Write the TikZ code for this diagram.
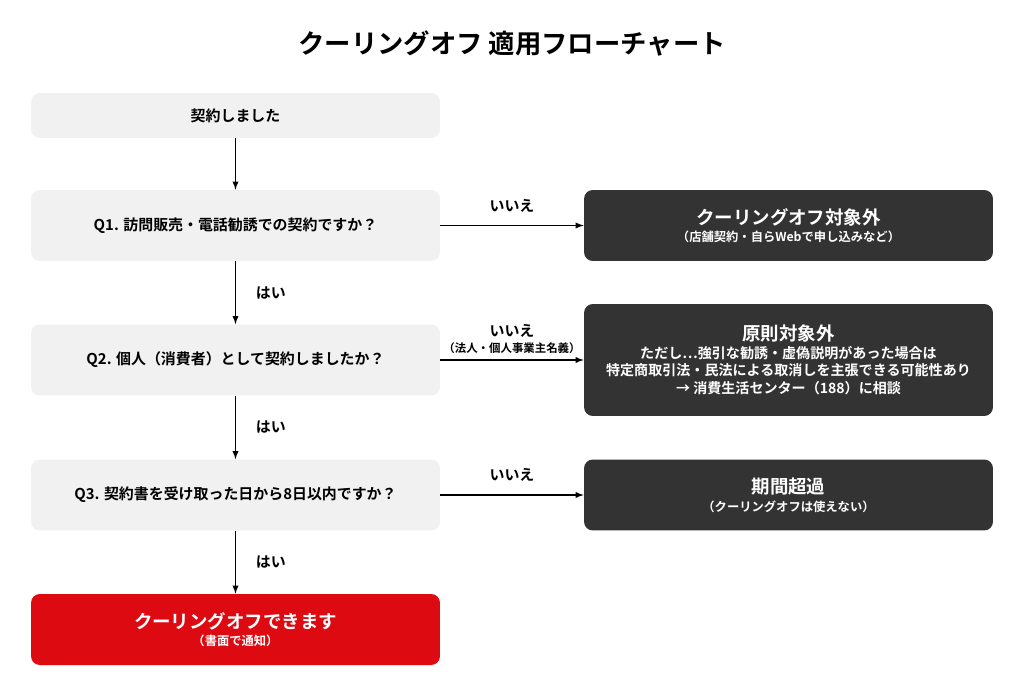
\documentclass[tikz,border=0pt]{standalone}
\usepackage{fontspec}
\setmainfont{Noto Sans CJK JP}[BoldFont={* Bold}]
\usetikzlibrary{positioning}
\definecolor{lightbox}{HTML}{F1F1F1}
\definecolor{darkbox}{HTML}{333333}
\definecolor{okred}{HTML}{DD0A12}
\tikzset{
  qbox/.style={fill=lightbox,rounded corners=5pt,minimum width=8.18cm,align=center,font=\bfseries\fontsize{8.5}{11}\selectfont},
  nbox/.style={fill=darkbox,text=white,rounded corners=5pt,minimum width=8.18cm,align=center,font=\bfseries\fontsize{8.5}{11}\selectfont},
  lbl/.style={font=\bfseries\fontsize{8.5}{11}\selectfont},
  arr/.style={->,>=latex,line width=0.6pt}
}
\begin{document}
\begin{tikzpicture}[x=0.02cm,y=-0.02cm]
\useasboundingbox (0,0) rectangle (1024,696);
\node[font=\bfseries\fontsize{15}{18}\selectfont] (title) at (512,43) {クーリングオフ 適用フローチャート};

\node[qbox,minimum height=0.9cm] (start) at (235.5,115.5) {契約しました};
\node[qbox,minimum height=1.42cm] (q1) at (235.5,225.5) {Q1. 訪問販売・電話勧誘での契約ですか？};
\node[qbox,minimum height=1.42cm] (q2) at (235.5,360) {Q2. 個人（消費者）として契約しましたか？};
\node[qbox,minimum height=1.42cm] (q3) at (235.5,495) {Q3. 契約書を受け取った日から8日以内ですか？};
\node[qbox,fill=okred,text=white,minimum height=1.42cm] (ok) at (235.5,629.5) {{\fontsize{10.5}{13}\selectfont クーリングオフできます}\\[-1pt]{\fontsize{7}{9}\selectfont （書面で通知）}};

\node[nbox,minimum height=1.42cm] (n1) at (788.5,225.5) {{\fontsize{10.5}{13}\selectfont クーリングオフ対象外}\\[-1pt]{\fontsize{7}{9}\selectfont （店舗契約・自らWebで申し込みなど）}};
\node[nbox,minimum height=2.24cm] (n2) at (788.5,360) {{\fontsize{10.5}{13}\selectfont 原則対象外}\\[-1pt]{\fontsize{8}{11}\selectfont ただし…強引な勧誘・虚偽説明があった場合は}\\[-1pt]{\fontsize{8}{11}\selectfont 特定商取引法・民法による取消しを主張できる可能性あり}\\[-1pt]{\fontsize{8}{11}\selectfont → 消費生活センター（188）に相談}};
\node[nbox,minimum height=1.42cm] (n3) at (788.5,495) {{\fontsize{10.5}{13}\selectfont 期間超過}\\[-1pt]{\fontsize{7}{9}\selectfont （クーリングオフは使えない）}};

\draw[arr] (start) -- (q1);
\draw[arr] (q1) -- node[lbl,right=8pt] {はい} (q2);
\draw[arr] (q2) -- node[lbl,right=8pt] {はい} (q3);
\draw[arr] (q3) -- node[lbl,right=8pt] {はい} (ok);

\draw[arr] (q1) -- node[lbl,above=4pt] {いいえ} (n1);
\draw[arr] (q2) -- node[lbl,above=0pt,align=center] {いいえ\\[-2pt]{\fontsize{6.5}{8}\selectfont （法人・個人事業主名義）}} (n2);
\draw[arr] (q3) -- node[lbl,above=4pt] {いいえ} (n3);
\end{tikzpicture}
\end{document}
